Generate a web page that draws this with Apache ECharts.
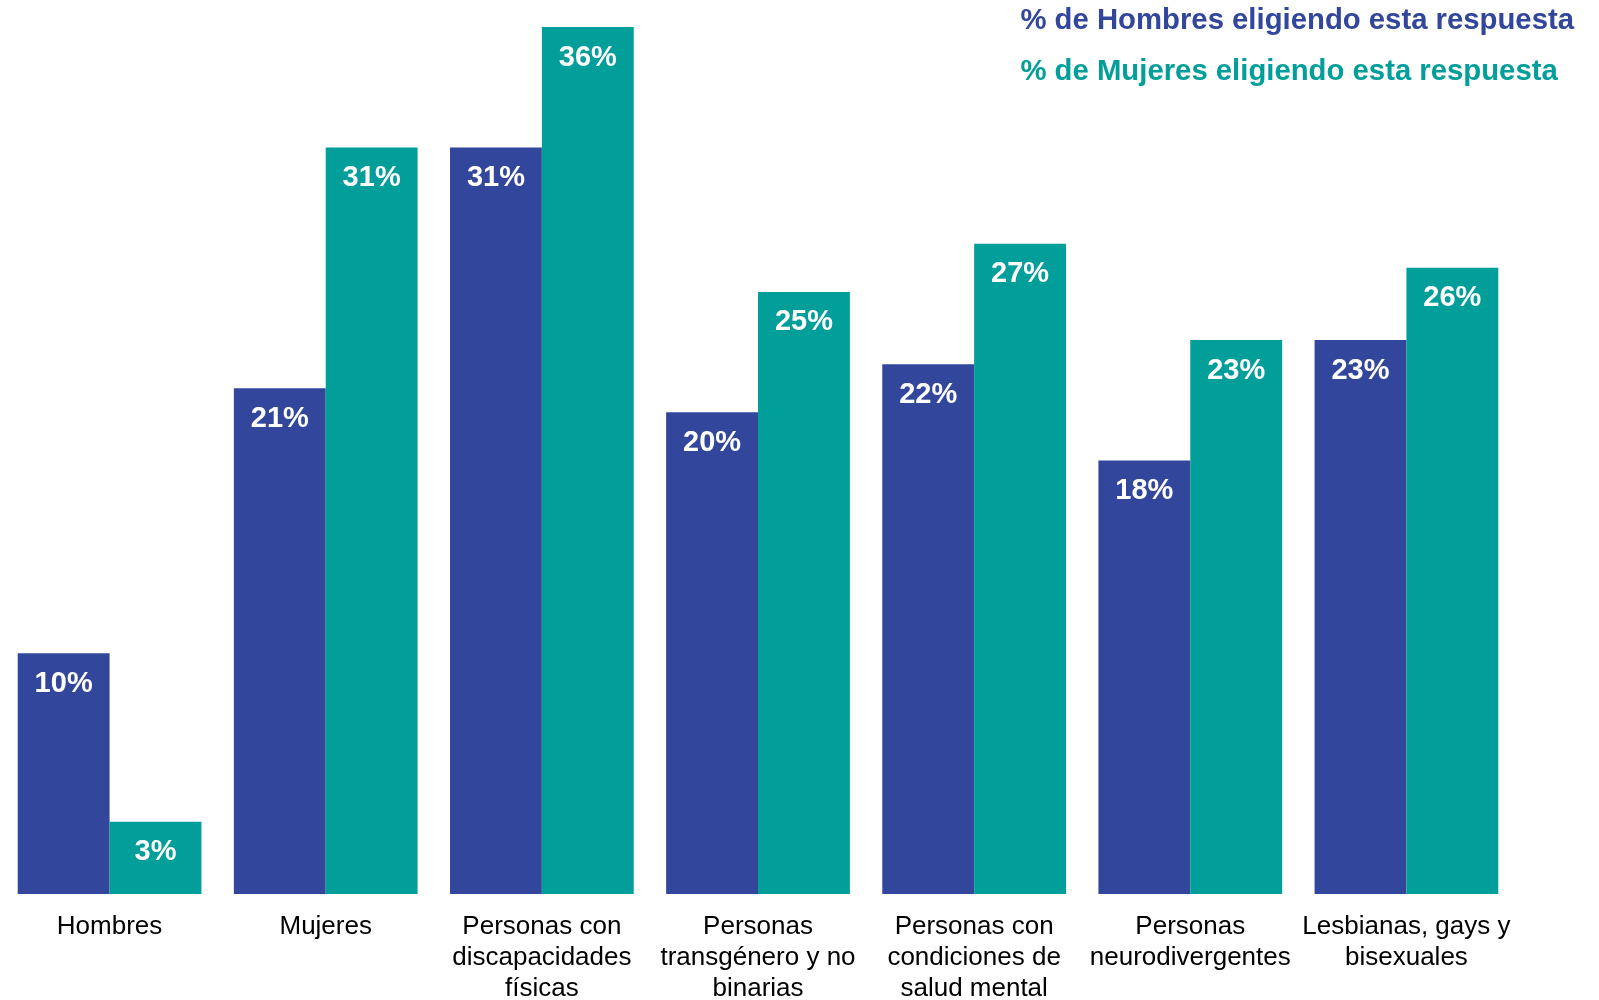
<!DOCTYPE html>
<html>
<head>
    <meta charset="utf-8">
    <style type="text/css">
        *, html, body {
            margin: 0;
            padding: 0;
        }
        html, body, #container {
            height: 100%;
            background: #fff;
        }
    </style>
    <script type="text/javascript" src="https://cdn.jsdelivr.net/npm/echarts@6/dist/echarts.min.js"></script>
</head>
<body>
<div id="container"></div>
<script type="text/javascript">
    var categories = [
        "Hombres",
        "Mujeres",
        "Personas con\ndiscapacidades\nfísicas",
        "Personas\ntransgénero y no\nbinarias",
        "Personas con\ncondiciones de\nsalud mental",
        "Personas\nneurodivergentes",
        "Lesbianas, gays y\nbisexuales"
    ];
    var hombres = [10, 21, 31, 20, 22, 18, 23];
    var mujeres = [3, 31, 36, 25, 27, 23, 26];
    var seriesNames = ["% de Hombres eligiendo esta respuesta", "% de Mujeres eligiendo esta respuesta"];

    var blue = "#32469b";
    var teal = "#019e9a";
    var font = "'Liberation Sans', Arial, sans-serif";

    var myChart = echarts.init(document.getElementById("container"));

    var barLabel = {
        show: true,
        position: "insideTop",
        distance: 16,
        color: "#fff",
        fontFamily: font,
        fontWeight: "bold",
        fontSize: 29,
        formatter: "{c}%"
    };

    var option = {
        animation: false,
        legend: {
            orient: "vertical",
            align: "left",
            right: 25,
            top: 6,
            padding: 0,
            icon: "none",
            itemWidth: 0,
            itemHeight: 14,
            itemGap: 21,
            selectedMode: false,
            textStyle: {
                fontFamily: font,
                fontWeight: "bold",
                fontSize: 29.3,
                lineHeight: 30
            },
            data: [
                {name: seriesNames[0], textStyle: {color: blue}},
                {name: seriesNames[1], textStyle: {color: teal}}
            ]
        },
        grid: {
            left: 1.5,
            right: 84.5,
            top: 27,
            bottom: 106,
            outerBoundsMode: "none"
        },
        xAxis: {
            type: "category",
            data: categories,
            axisLine: {show: false},
            axisTick: {show: false},
            axisLabel: {
                interval: 0,
                margin: 17,
                color: "#000",
                fontFamily: font,
                fontSize: 26,
                lineHeight: 31
            }
        },
        yAxis: {
            type: "value",
            min: 0,
            max: 36,
            show: false,
            splitLine: {show: false}
        },
        series: [
            {
                name: seriesNames[0],
                type: "bar",
                data: hombres,
                barGap: "0%",
                barCategoryGap: "15%",
                itemStyle: {color: blue},
                label: barLabel
            },
            {
                name: seriesNames[1],
                type: "bar",
                data: mujeres,
                barGap: "0%",
                barCategoryGap: "15%",
                itemStyle: {color: teal},
                label: barLabel
            }
        ]
    };

    myChart.setOption(option);
    window.onresize = function () {
        myChart.resize();
    };
</script>
</body>
</html>
